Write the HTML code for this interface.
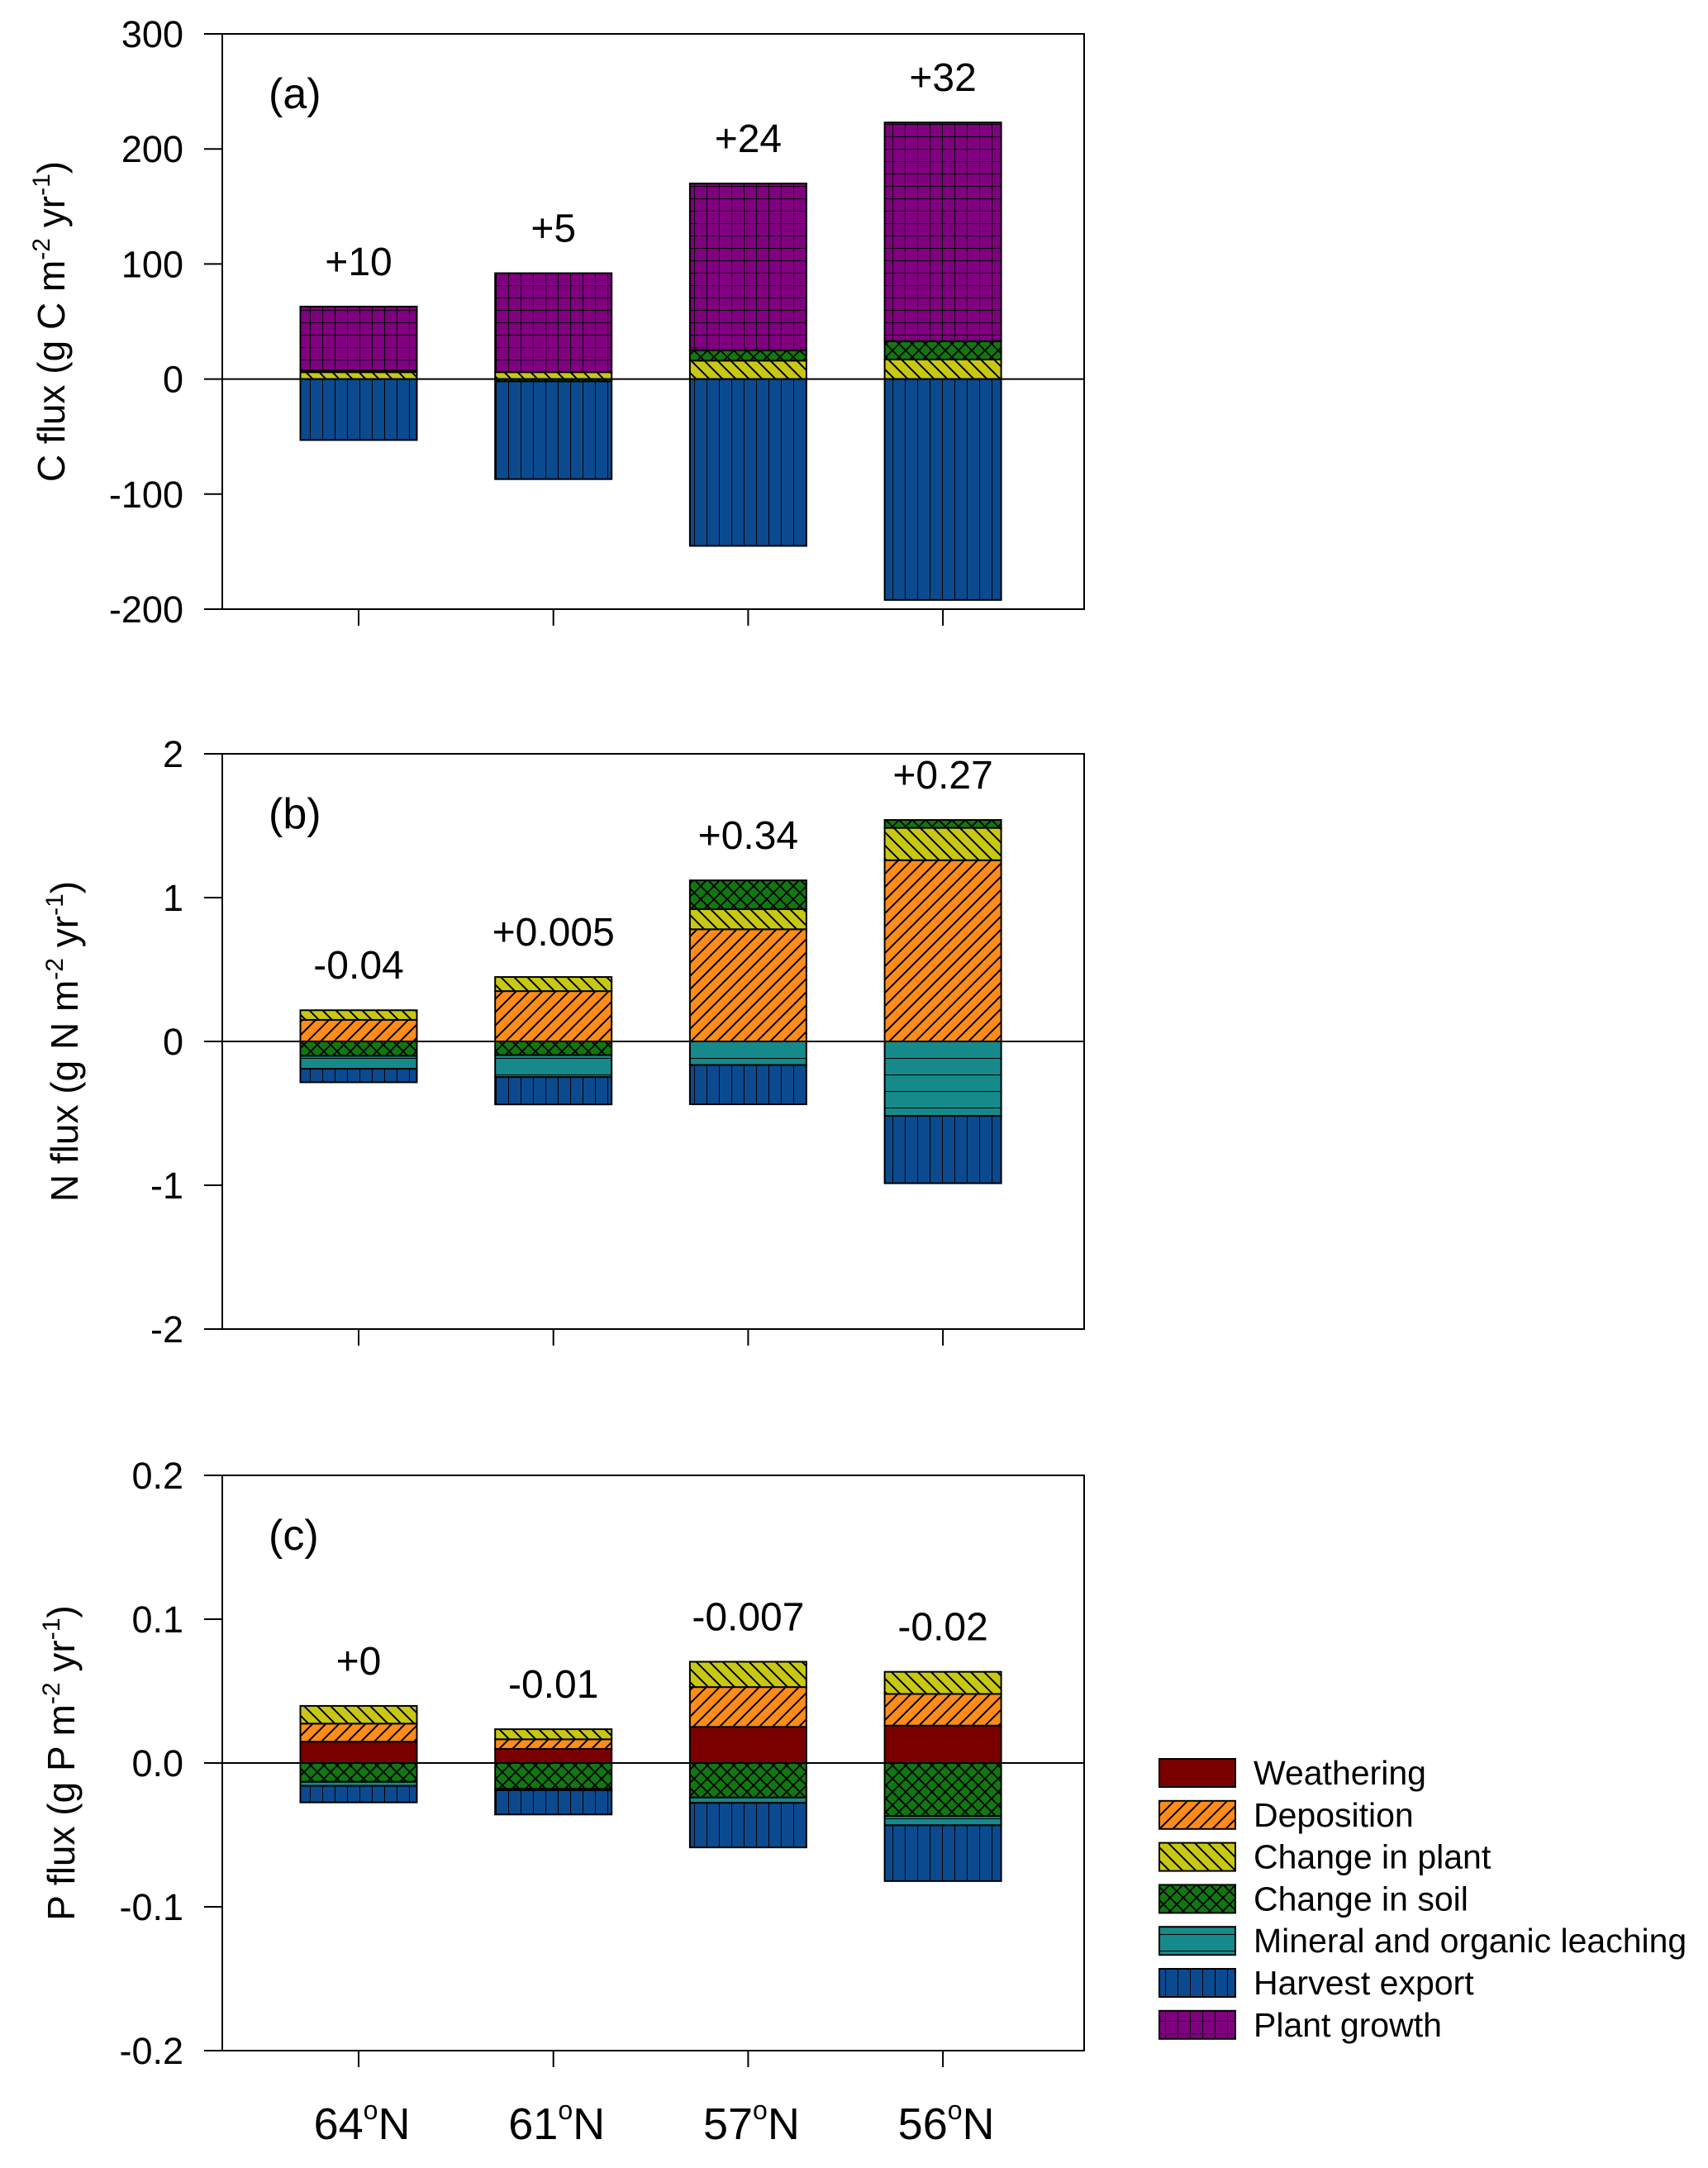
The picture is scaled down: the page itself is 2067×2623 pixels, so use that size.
<!DOCTYPE html>
<html><head><meta charset="utf-8"><style>
html,body{margin:0;padding:0;background:#fff;}
svg text{font-family:"Liberation Sans",Arial,sans-serif;fill:#000;}
</style></head><body>
<svg id="chart" width="2067" height="2618" viewBox="0 0 2067 2618" xmlns="http://www.w3.org/2000/svg">
<defs>
<pattern id="p-growth" patternUnits="userSpaceOnUse" width="15" height="15"><rect width="15" height="15" fill="#800080"/><path d="M0 0H15M0 0V15" stroke="#000" stroke-width="2"/></pattern>
<pattern id="p-harvest" patternUnits="userSpaceOnUse" width="15" height="15"><rect width="15" height="15" fill="#0b4a8f"/><path d="M0 0V15" stroke="#000" stroke-width="2"/></pattern>
<pattern id="p-plant" patternUnits="userSpaceOnUse" width="16" height="16"><rect width="16" height="16" fill="#c8c814"/><path d="M0 0L16 16M-8 8L8 24M8 -8L24 8" stroke="#000" stroke-width="2"/></pattern>
<pattern id="p-dep" patternUnits="userSpaceOnUse" width="16" height="16"><rect width="16" height="16" fill="#ff8c1a"/><path d="M0 16L16 0M-8 8L8 -8M8 24L24 8" stroke="#000" stroke-width="2"/></pattern>
<pattern id="p-soil" patternUnits="userSpaceOnUse" width="16" height="16"><rect width="16" height="16" fill="#117711"/><path d="M0 0L16 16M0 16L16 0" stroke="#000" stroke-width="1.8"/></pattern>
<pattern id="p-leach" patternUnits="userSpaceOnUse" width="20" height="20"><rect width="20" height="20" fill="#168a8a"/><path d="M0 0H20" stroke="#000" stroke-width="2"/></pattern>
<pattern id="p-weath" patternUnits="userSpaceOnUse" width="20" height="20"><rect width="20" height="20" fill="#7a0000"/></pattern>
</defs>
<g id="root"></g>
</svg>
<script>
// categories
const sites = ["64", "61", "57", "56"];
// Panel (a) C flux
const aWeathering = [0, 0, 0, 0];
const aDeposition = [0, 0, 0, 0];
const aPlant = [6, 6, 16, 17];
const aSoil = [1.5, -2, 9, 16];
const aLeaching = [0, 0, 0, 0];
const aHarvest = [-53, -85, -145, -192];
const aGrowth = [55.5, 86, 145, 190];
const aLabels = ["+10", "+5", "+24", "+32"];
const aTicks = [300, 200, 100, 0, -100, -200];
const aTickText = ["300", "200", "100", "0", "-100", "-200"];
// Panel (b) N flux
const bWeathering = [0, 0, 0, 0];
const bDeposition = [0.15, 0.35, 0.78, 1.26];
const bPlant = [0.067, 0.098, 0.14, 0.225];
const bSoil = [-0.1, -0.095, 0.2, 0.055];
const bLeaching = [-0.09, -0.153, -0.164, -0.518];
const bHarvest = [-0.094, -0.19, -0.273, -0.468];
const bGrowth = [0, 0, 0, 0];
const bLabels = ["-0.04", "+0.005", "+0.34", "+0.27"];
const bTicks = [2, 1, 0, -1, -2];
const bTickText = ["2", "1", "0", "-1", "-2"];
// Panel (c) P flux
const cWeathering = [0.0148, 0.0098, 0.0251, 0.026];
const cDeposition = [0.0126, 0.0067, 0.0277, 0.022];
const cPlant = [0.0123, 0.007, 0.0176, 0.0154];
const cSoil = [-0.0131, -0.0179, -0.024, -0.0369];
const cLeaching = [-0.0028, -0.001, -0.0037, -0.0064];
const cHarvest = [-0.0115, -0.0169, -0.031, -0.0388];
const cGrowth = [0, 0, 0, 0];
const cLabels = ["+0", "-0.01", "-0.007", "-0.02"];
const cTicks = [0.2, 0.1, 0, -0.1, -0.2];
const cTickText = ["0.2", "0.1", "0.0", "-0.1", "-0.2"];

const NS = "http://www.w3.org/2000/svg";
const root = document.getElementById("root");
function mk(tag, attrs, parent) {
  const e = document.createElementNS(NS, tag);
  for (const k in attrs) e.setAttribute(k, attrs[k]);
  (parent || root).appendChild(e);
  return e;
}
const FL = 269, FR = 1312, BW = 141;
function xc(i) { return 434 + 235.7 * i; }

const seriesNames = ["weathering", "deposition", "change-in-plant", "change-in-soil", "leaching", "harvest-export", "plant-growth"];
const fills = ["url(#p-weath)", "url(#p-dep)", "url(#p-plant)", "url(#p-soil)", "url(#p-leach)", "url(#p-harvest)", "url(#p-growth)"];

function panel(opts) {
  const g = mk("g", {});
  
  
  const top = opts.top, bot = opts.bot, ymax = opts.ymax, ymin = opts.ymin;
  const y = v => top + (ymax - v) / (ymax - ymin) * (bot - top);
  const fr = mk("rect", {x: FL, y: top, width: FR - FL, height: bot - top, fill: "none", stroke: "#000", "stroke-width": 2}, g);
  
  
  opts.ticks.forEach((t, k) => {
    const ty = y(t);
    const tl = mk("line", {x1: FL - 22, x2: FL, y1: ty, y2: ty, stroke: "#000", "stroke-width": 2}, g);
    
    
    const tt = mk("text", {x: 222, y: ty + 16, "text-anchor": "end", "font-size": 45}, g);
    tt.textContent = opts.tickText[k];
    
    
  });
  sites.forEach((s, i) => {
    const xl = mk("line", {x1: xc(i), x2: xc(i), y1: bot, y2: bot + 20, stroke: "#000", "stroke-width": 2}, g);
    
    
  });
  const series = opts.series;
  sites.forEach((s, i) => {
    let pos = 0, neg = 0;
    const posOrder = [0, 1, 2, 3, 6];
    const negOrder = [3, 4, 5];
    const drawSeg = (k, a, b) => {
      const r = mk("rect", {x: xc(i) - BW / 2, y: y(Math.max(a, b)), width: BW, height: Math.abs(y(a) - y(b)), fill: fills[k], stroke: "#000", "stroke-width": 2}, g);
      
      
    };
    posOrder.forEach(k => { const v = series[k][i]; if (v > 0) { drawSeg(k, pos, pos + v); pos += v; } });
    negOrder.forEach(k => { const v = series[k][i]; if (v < 0) { drawSeg(k, neg, neg + v); neg += v; } });
    const lb = mk("text", {x: xc(i), y: y(pos) - 38, "text-anchor": "middle", "font-size": 48}, g);
    lb.textContent = opts.labels[i];
    
    
  });
  const zl = mk("line", {x1: FL, x2: FR, y1: y(0), y2: y(0), stroke: "#000", "stroke-width": 2}, g);
  
  
  const pl = mk("text", {x: 325, y: top + 90, "font-size": 52}, g);
  pl.textContent = opts.letter;
  
  
  const cy = (top + bot) / 2;
  const yt = mk("text", {x: 0, y: 0, "text-anchor": "middle", "font-size": 46, transform: "translate(" + opts.titleX + "," + cy + ") rotate(-90)"}, g);
  
  
  yt.innerHTML = opts.el + ' flux (g ' + opts.el + ' m<tspan dy="-18" font-size="30">-2</tspan><tspan dy="18"> yr</tspan><tspan dy="-18" font-size="30">-1</tspan><tspan dy="18">)</tspan>';
}

panel({name: "panel-a-carbon", top: 41, bot: 737, ymax: 300, ymin: -200, ticks: aTicks, tickText: aTickText, letter: "(a)", el: "C", titleX: 78,
  labels: aLabels, series: [aWeathering, aDeposition, aPlant, aSoil, aLeaching, aHarvest, aGrowth]});
panel({name: "panel-b-nitrogen", top: 912, bot: 1608, ymax: 2, ymin: -2, ticks: bTicks, tickText: bTickText, letter: "(b)", el: "N", titleX: 94,
  labels: bLabels, series: [bWeathering, bDeposition, bPlant, bSoil, bLeaching, bHarvest, bGrowth]});
panel({name: "panel-c-phosphorus", top: 1785, bot: 2481, ymax: 0.2, ymin: -0.2, ticks: cTicks, tickText: cTickText, letter: "(c)", el: "P", titleX: 90,
  labels: cLabels, series: [cWeathering, cDeposition, cPlant, cSoil, cLeaching, cHarvest, cGrowth]});

sites.forEach((s, i) => {
  const t = mk("text", {x: xc(i) + 4, y: 2588, "text-anchor": "middle", "font-size": 54});
  t.innerHTML = s + '<tspan dy="-24" font-size="32">o</tspan><tspan dy="24">N</tspan>';
  
  
});

const legNames = ["Weathering", "Deposition", "Change in plant", "Change in soil", "Mineral and organic leaching", "Harvest export", "Plant growth"];
const legFills = ["url(#p-weath)", "url(#p-dep)", "url(#p-plant)", "url(#p-soil)", "url(#p-leach)", "url(#p-harvest)", "url(#p-growth)"];
const lg = mk("g", {});


legNames.forEach((n, k) => {
  const cy = 2145 + k * 50.8;
  const r = mk("rect", {x: 1403, y: cy - 17, width: 92, height: 34, fill: legFills[k], stroke: "#000", "stroke-width": 2}, lg);
  
  
  const t = mk("text", {x: 1517, y: cy + 14, "font-size": 41}, lg);
  t.textContent = n;
  
  
});
</script>
</body></html>
